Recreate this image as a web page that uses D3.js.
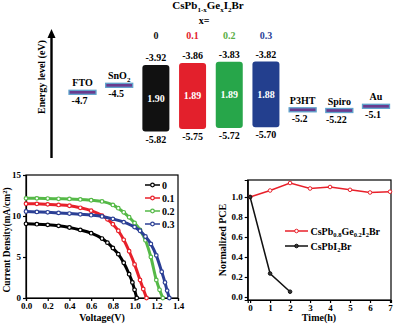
<!DOCTYPE html>
<html lang="en">

<head>
    <meta charset="UTF-8">
    <title>CsPbGeI2Br energy levels, J-V and stability</title>
    <script src="https://d3js.org/d3.v7.min.js"></script>
    <style>
        body {
            margin: 0;
            background: #fff;
        }

        svg text {
            font-family: "Liberation Serif", "Times New Roman", serif;
            font-weight: bold;
        }

        .axis path,
        .axis line {
            stroke: #000;
            stroke-width: 1.2;
        }

        .axis text {
            font-size: 9px;
            fill: #000;
        }
    </style>
</head>

<body>
    <div id="chart"></div>

    <script>
        // energy diagram data
        var columns = ["FTO", "SnO2", "0", "0.1", "0.2", "0.3", "P3HT", "Spiro", "Au"];
        var layerNames = ["FTO", "SnO2", "P3HT", "Spiro", "Au"];
        var layerLevels = [-4.7, -4.5, -5.2, -5.22, -5.1];
        var perovX = ["0", "0.1", "0.2", "0.3"];
        var perovCBM = [-3.92, -3.86, -3.83, -3.82];
        var perovVBM = [-5.82, -5.75, -5.72, -5.70];
        var perovGap = ["1.90", "1.89", "1.89", "1.88"];
        var perovColors = ["#111111", "#e3202c", "#27a64a", "#233f8e"];
        var labelColors = ["#111111", "#e3202c", "#5aae45", "#2a3f98"];

        // J-V curves (voltage in V, current density in mA/cm2)
        var jvNames = ["0", "0.1", "0.2", "0.3"];
        var jvColors = ["#000000", "#e8202a", "#55b947", "#2b3f95"];
        var jvV0 = [0, 0.1, 0.2, 0.3, 0.4, 0.5, 0.6, 0.7, 0.75, 0.8, 0.85, 0.9, 0.95, 0.98, 1.0, 1.02];
        var jvJ0 = [9.05, 9.0, 8.92, 8.8, 8.6, 8.3, 7.9, 7.25, 6.75, 6.1, 5.35, 4.3, 2.9, 1.9, 1.0, 0];
        var jvV1 = [0, 0.1, 0.2, 0.3, 0.4, 0.5, 0.6, 0.7, 0.75, 0.8, 0.85, 0.9, 0.95, 1.0, 1.05, 1.08, 1.11];
        var jvJ1 = [11.5, 11.48, 11.42, 11.35, 11.25, 11.0, 10.65, 10.05, 9.6, 9.0, 8.2, 7.1, 5.7, 4.1, 2.2, 1.1, 0];
        var jvV2 = [0, 0.1, 0.2, 0.3, 0.4, 0.5, 0.6, 0.7, 0.8, 0.85, 0.9, 0.95, 1.0, 1.05, 1.1, 1.15, 1.2, 1.23, 1.26];
        var jvJ2 = [12.15, 12.15, 12.13, 12.1, 12.08, 12.02, 11.92, 11.78, 11.35, 10.95, 10.45, 9.85, 9.15, 8.3, 7.05, 5.0, 2.2, 1.0, 0];
        var jvV3 = [0, 0.1, 0.2, 0.3, 0.4, 0.5, 0.6, 0.7, 0.8, 0.9, 1.0, 1.05, 1.1, 1.15, 1.2, 1.25, 1.28, 1.3, 1.32];
        var jvJ3 = [10.55, 10.5, 10.45, 10.38, 10.3, 10.2, 10.1, 9.95, 9.65, 9.25, 8.65, 8.2, 7.5, 6.6, 5.2, 3.2, 1.9, 0.9, 0];

        // stability data
        var timeH = [0, 1, 2, 3, 4, 5, 6, 7];
        var pceGe = [1.0, 1.065, 1.14, 1.085, 1.10, 1.072, 1.045, 1.053];
        var timeRef = [0, 1, 2];
        var pceRef = [1.0, 0.235, 0.053];

        var svg = d3.select("#chart")
            .append("svg")
            .attr("width", 394)
            .attr("height", 324);

        // ---------- energy level diagram ----------
        var xE = d3.scalePoint().domain(columns).range([82.5, 376]);
        var yE = d3.scaleLinear().domain([-3.92, -5.82]).range([65, 131.5]);
        var barW = 27;

        // title with subscripts
        var title = svg.append("text")
            .attr("x", 208)
            .attr("y", 9)
            .attr("text-anchor", "middle")
            .style("font-size", "11px");
        [["CsPb", 0], ["1-x", 1], ["Ge", 0], ["x", 1], ["I", 0], ["2", 1], ["Br", 0]].forEach(function (p, i, arr) {
            var prev = i > 0 ? arr[i - 1][1] : 0;
            title.append("tspan")
                .attr("dy", p[1] && !prev ? 3 : (!p[1] && prev ? -3 : 0))
                .style("font-size", p[1] ? "7px" : "11px")
                .text(p[0]);
        });
        svg.append("text")
            .attr("x", 204)
            .attr("y", 24)
            .attr("text-anchor", "middle")
            .style("font-size", "10px")
            .text("x=");

        // arrow + axis title
        svg.append("line")
            .attr("x1", 51.5).attr("x2", 51.5)
            .attr("y1", 158).attr("y2", 36)
            .attr("stroke", "#000")
            .attr("stroke-width", 2.4);
        svg.append("path")
            .attr("d", "M47.5,38 L51.5,29 L55.5,38 Z")
            .attr("fill", "#000");
        svg.append("text")
            .attr("transform", "translate(44.5,77) rotate(-90)")
            .attr("text-anchor", "middle")
            .style("font-size", "10px")
            .text("Energy level (eV)");

        // transport layers
        var layers = svg.selectAll(".layer")
            .data(layerNames.map(function (n, i) { return { name: n, level: layerLevels[i] }; }))
            .enter().append("g")
            .attr("class", "layer");
        layers.append("rect")
            .attr("x", function (d) { return xE(d.name) - barW / 2; })
            .attr("y", function (d) { return yE(d.level) - 2; })
            .attr("width", barW)
            .attr("height", 4)
            .attr("fill", "#6a3a8e")
            .attr("stroke", "#5fa3cc")
            .attr("stroke-width", 1.3);
        layers.append("text")
            .attr("x", function (d) { return xE(d.name); })
            .attr("y", function (d) { return yE(d.level) - 6; })
            .attr("text-anchor", "middle")
            .style("font-size", "10px")
            .each(function (d) {
                if (d.name === "SnO2") {
                    d3.select(this).append("tspan").text("SnO");
                    d3.select(this).append("tspan").attr("dy", 2.5).style("font-size", "7px").text("2");
                } else {
                    d3.select(this).text(d.name);
                }
            });
        layers.append("text")
            .attr("x", function (d) { return xE(d.name) - 3; })
            .attr("y", function (d) { return yE(d.level) + 12; })
            .attr("text-anchor", "middle")
            .style("font-size", "10px")
            .text(function (d) { return d.level; });

        // perovskite bars
        var perov = svg.selectAll(".perov")
            .data(perovX.map(function (x, i) {
                return { x: x, cbm: perovCBM[i], vbm: perovVBM[i], gap: perovGap[i], color: perovColors[i], lc: labelColors[i] };
            }))
            .enter().append("g")
            .attr("class", "perov");
        perov.append("rect")
            .attr("x", function (d) { return xE(d.x) - barW / 2; })
            .attr("y", function (d) { return yE(d.cbm); })
            .attr("width", barW)
            .attr("height", function (d) { return yE(d.vbm) - yE(d.cbm); })
            .attr("rx", 3)
            .attr("fill", function (d) { return d.color; });
        perov.append("text")
            .attr("x", function (d) { return xE(d.x); })
            .attr("y", 39)
            .attr("text-anchor", "middle")
            .style("font-size", "10px")
            .attr("fill", function (d) { return d.lc; })
            .text(function (d) { return d.x; });
        perov.append("text")
            .attr("x", function (d) { return xE(d.x); })
            .attr("y", function (d) { return yE(d.cbm) - 4; })
            .attr("text-anchor", "middle")
            .style("font-size", "10px")
            .text(function (d) { return d.cbm.toFixed(2); });
        perov.append("text")
            .attr("x", function (d) { return xE(d.x); })
            .attr("y", function (d) { return yE(d.vbm) + 11; })
            .attr("text-anchor", "middle")
            .style("font-size", "10px")
            .text(function (d) { return d.vbm.toFixed(2); });
        perov.append("text")
            .attr("x", function (d) { return xE(d.x); })
            .attr("y", function (d) { return (yE(d.cbm) + yE(d.vbm)) / 2 + 3.5; })
            .attr("text-anchor", "middle")
            .style("font-size", "10px")
            .attr("fill", "#fff")
            .text(function (d) { return d.gap; });

        // ---------- J-V curves ----------
        var xJ = d3.scaleLinear().domain([0, 1.4]).range([26, 178]);
        var yJ = d3.scaleLinear().domain([0, 15]).range([298, 175]);

        svg.append("rect")
            .attr("x", 26).attr("y", 175)
            .attr("width", 152).attr("height", 123)
            .attr("fill", "none")
            .attr("stroke", "#000")
            .attr("stroke-width", 1.2);
        svg.append("g")
            .attr("class", "axis")
            .attr("transform", "translate(0,298)")
            .call(d3.axisBottom(xJ).tickValues(d3.range(0, 1.41, 0.2)).tickFormat(d3.format(".1f")).tickSize(3).tickPadding(2));
        svg.append("g")
            .attr("class", "axis")
            .attr("transform", "translate(26,0)")
            .call(d3.axisLeft(yJ).tickValues([0, 5, 10, 15]).tickSize(3).tickPadding(2));

        var jvSeries = [[jvV0, jvJ0], [jvV1, jvJ1], [jvV2, jvJ2], [jvV3, jvJ3]].map(function (s, i) {
            return {
                name: jvNames[i], color: jvColors[i],
                pts: s[0].map(function (v, k) { return [v, s[1][k]]; })
            };
        });
        var jvLine = d3.line()
            .x(function (d) { return xJ(d[0]); })
            .y(function (d) { return yJ(d[1]); })
            .curve(d3.curveMonotoneX);
        var jv = svg.selectAll(".jv")
            .data(jvSeries)
            .enter().append("g")
            .attr("class", "jv");
        jv.append("path")
            .attr("d", function (d) { return jvLine(d.pts); })
            .attr("fill", "none")
            .attr("stroke", function (d) { return d.color; })
            .attr("stroke-width", 3);
        jv.selectAll("circle")
            .data(function (d) { return d.pts.map(function (p) { return { p: p, c: d.color }; }); })
            .enter().append("circle")
            .attr("cx", function (d) { return xJ(d.p[0]); })
            .attr("cy", function (d) { return yJ(d.p[1]); })
            .attr("r", 1.8)
            .attr("fill", "#fff")
            .attr("stroke", function (d) { return d.c; })
            .attr("stroke-width", 1.2);

        // J-V legend
        var jvLeg = svg.selectAll(".jvleg")
            .data(jvSeries)
            .enter().append("g")
            .attr("class", "jvleg")
            .attr("transform", function (d, i) { return "translate(145," + (185 + i * 13) + ")"; });
        jvLeg.append("line")
            .attr("x1", 0).attr("x2", 15)
            .attr("stroke", function (d) { return d.color; })
            .attr("stroke-width", 1.5);
        jvLeg.append("circle")
            .attr("cx", 7.5).attr("r", 1.8)
            .attr("fill", "#fff")
            .attr("stroke", function (d) { return d.color; })
            .attr("stroke-width", 1.2);
        jvLeg.append("text")
            .attr("x", 17).attr("y", 3.5)
            .style("font-size", "10px")
            .text(function (d) { return d.name; });

        svg.append("text")
            .attr("x", 102).attr("y", 321)
            .attr("text-anchor", "middle")
            .style("font-size", "10px")
            .text("Voltage(V)");
        svg.append("text")
            .attr("transform", "translate(9.5,240) rotate(-90)")
            .attr("text-anchor", "middle")
            .style("font-size", "9.5px")
            .each(function () {
                d3.select(this).append("tspan").text("Current Density(mA/cm");
                d3.select(this).append("tspan").attr("dy", -3).style("font-size", "6.5px").text("2");
                d3.select(this).append("tspan").attr("dy", 3).text(")");
            });

        // ---------- stability ----------
        var xS = d3.scaleLinear().domain([-0.12, 7.05]).range([247.7, 391]);
        var yS = d3.scaleLinear().domain([-0.03, 1.17]).range([300, 180]);

        svg.append("rect")
            .attr("x", 247.7).attr("y", 180)
            .attr("width", 143.3).attr("height", 120)
            .attr("fill", "none")
            .attr("stroke", "#000")
            .attr("stroke-width", 1.2);
        svg.append("g")
            .attr("class", "axis")
            .attr("transform", "translate(0,300)")
            .call(d3.axisBottom(xS).tickValues(timeH).tickSize(3).tickPadding(2));
        svg.append("g")
            .attr("class", "axis")
            .attr("transform", "translate(247.7,0)")
            .call(d3.axisLeft(yS).tickValues([0, 0.2, 0.4, 0.6, 0.8, 1.0]).tickFormat(d3.format(".1f")).tickSize(3).tickPadding(2));

        var sLine = d3.line()
            .x(function (d) { return xS(d[0]); })
            .y(function (d) { return yS(d[1]); });
        var stab = [
            { name: "Ge", color: "#e8202a", fill: "#fff", pts: timeH.map(function (t, i) { return [t, pceGe[i]]; }) },
            { name: "Ref", color: "#111", fill: "#333", pts: timeRef.map(function (t, i) { return [t, pceRef[i]]; }) }
        ];
        stab.forEach(function (s) {
            svg.append("path")
                .attr("d", sLine(s.pts))
                .attr("fill", "none")
                .attr("stroke", s.color)
                .attr("stroke-width", 1.5);
            svg.selectAll(null)
                .data(s.pts)
                .enter().append("circle")
                .attr("cx", function (d) { return xS(d[0]); })
                .attr("cy", function (d) { return yS(d[1]); })
                .attr("r", 1.8)
                .attr("fill", s.fill)
                .attr("stroke", s.color)
                .attr("stroke-width", 1);
        });

        // stability legend
        var legRows = [
            { color: "#e8202a", fill: "#fff", y: 231, parts: [["CsPb", 0], ["0.8", 1], ["Ge", 0], ["0.2", 1], ["I", 0], ["2", 1], ["Br", 0]] },
            { color: "#111", fill: "#333", y: 246, parts: [["CsPbI", 0], ["2", 1], ["Br", 0]] }
        ];
        legRows.forEach(function (r) {
            svg.append("line")
                .attr("x1", 285).attr("x2", 308)
                .attr("y1", r.y).attr("y2", r.y)
                .attr("stroke", r.color)
                .attr("stroke-width", 1.5);
            svg.append("circle")
                .attr("cx", 296.5).attr("cy", r.y).attr("r", 1.8)
                .attr("fill", r.fill)
                .attr("stroke", r.color);
            var t = svg.append("text")
                .attr("x", 310.5).attr("y", r.y + 3.5)
                .style("font-size", "10px");
            r.parts.forEach(function (p, i, arr) {
                var prev = i > 0 ? arr[i - 1][1] : 0;
                t.append("tspan")
                    .attr("dy", p[1] && !prev ? 2.5 : (!p[1] && prev ? -2.5 : 0))
                    .style("font-size", p[1] ? "6.5px" : "10px")
                    .text(p[0]);
            });
        });

        svg.append("text")
            .attr("x", 319).attr("y", 321)
            .attr("text-anchor", "middle")
            .style("font-size", "10px")
            .text("Time(h)");
        svg.append("text")
            .attr("transform", "translate(226,240) rotate(-90)")
            .attr("text-anchor", "middle")
            .style("font-size", "10px")
            .text("Normalized PCE");
    </script>
</body>

</html>
